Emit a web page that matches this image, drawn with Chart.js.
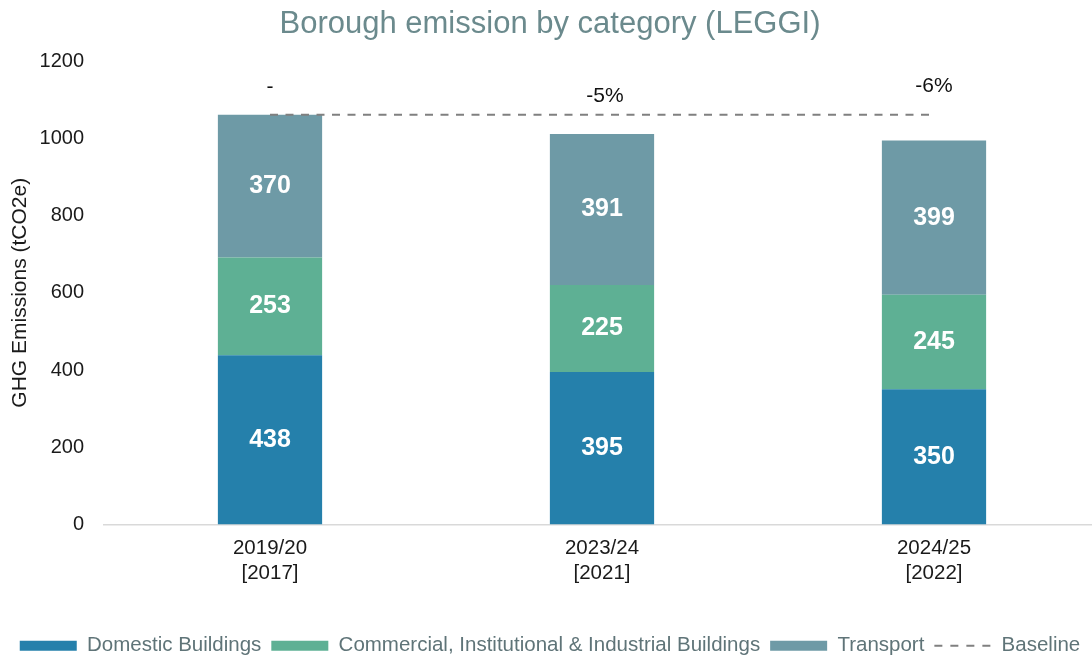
<!DOCTYPE html>
<html>
<head>
<meta charset="utf-8">
<script src="https://cdn.jsdelivr.net/npm/chart.js@4"></script>
<style>
  html, body { margin: 0; padding: 0; background: #ffffff; overflow: hidden; }
  #wrap { width: 1092px; height: 661px; overflow: hidden; }
</style>
</head>
<body>
<div id="wrap"><canvas id="c" width="1100" height="661"></canvas></div>
<script>
const categories = [['2019/20', '[2017]'], ['2023/24', '[2021]'], ['2024/25', '[2022]']];
const domestic = [438, 395, 350];
const commercial = [253, 225, 245];
const transport = [370, 391, 399];
const baseline = [1061, 1061, 1061];
const changeLabels = ['-', '-5%', '-6%'];
const yTicks = [0, 200, 400, 600, 800, 1000, 1200];

const FONT = "'Liberation Sans', Arial, sans-serif";
const changeOffsets = [27, 18, 28];

const barLabels = {
  id: 'barLabels',
  afterDatasetsDraw(chart) {
    const ctx = chart.ctx;
    ctx.save();
    ctx.font = 'bold 25px ' + FONT;
    ctx.fillStyle = '#ffffff';
    ctx.textAlign = 'center';
    ctx.textBaseline = 'middle';
    chart.data.datasets.forEach((ds, di) => {
      if (ds.type === 'line') return;
      const meta = chart.getDatasetMeta(di);
      meta.data.forEach((el, i) => {
        ctx.fillText(String(ds.data[i]), el.x, (el.y + el.base) / 2);
      });
    });
    const ys = chart.scales.y;
    const lineMeta = chart.getDatasetMeta(3);
    ctx.font = '21px ' + FONT;
    ctx.fillStyle = '#111111';
    lineMeta.data.forEach((pt, i) => {
      ctx.fillText(changeLabels[i], pt.x + (i === 1 ? 3 : 0), ys.getPixelForValue(baseline[i]) - changeOffsets[i]);
    });
    ctx.restore();
  }
};

new Chart(document.getElementById('c'), {
  type: 'bar',
  data: {
    labels: categories,
    datasets: [
      { label: 'Domestic Buildings', data: domestic, backgroundColor: '#2580AB', stack: 's', barPercentage: 0.314, categoryPercentage: 1 },
      { label: 'Commercial, Institutional & Industrial Buildings', data: commercial, backgroundColor: '#5EB094', stack: 's', barPercentage: 0.314, categoryPercentage: 1 },
      { label: 'Transport', data: transport, backgroundColor: '#6E9AA6', stack: 's', barPercentage: 0.314, categoryPercentage: 1 },
      { type: 'line', label: 'Baseline', data: baseline, borderColor: '#808080', borderWidth: 2, borderDash: [8, 7.5], pointRadius: 0, fill: false, stack: 'base', order: -1 }
    ]
  },
  options: {
    responsive: false,
    animation: false,
    devicePixelRatio: 1,
    layout: { padding: { left: 0, right: 0, top: 0, bottom: -5 } },
    plugins: {
      title: {
        display: true,
        text: 'Borough emission by category (LEGGI)',
        color: '#6B8A8D',
        font: { family: FONT, size: 31, weight: 'normal', lineHeight: 1.1 },
        padding: { top: 7, bottom: 19.9 }
      },
      legend: {
        position: 'bottom',
        labels: {
          font: { family: FONT, size: 20.5 },
          color: '#5F7478',
          usePointStyle: true,
          pointStyleWidth: 57,
          boxHeight: 10,
          padding: 10,
          generateLabels(chart) {
            return chart.data.datasets.map((ds, i) => {
              const isLine = ds.type === 'line';
              return {
                text: ds.label,
                fillStyle: isLine ? 'rgba(0,0,0,0)' : ds.backgroundColor,
                strokeStyle: isLine ? ds.borderColor : ds.backgroundColor,
                lineWidth: isLine ? 2 : 0,
                lineDash: isLine ? [8, 8] : [],
                pointStyle: isLine ? 'line' : 'rect',
                rotation: 0,
                fontColor: '#5F7478',
                hidden: false,
                datasetIndex: i
              };
            });
          }
        }
      },
      tooltip: { enabled: false }
    },
    scales: {
      x: {
        stacked: true,
        grid: { display: true, drawOnChartArea: false, drawTicks: false },
        border: { display: true, color: '#D9D9D9', width: 1.5 },
        ticks: { color: '#1a1a1a', font: { family: FONT, size: 20.5, lineHeight: 1.2 }, padding: 12, maxRotation: 0 },
        afterFit(scale) { scale.height = 101; }
      },
      y: {
        stacked: true,
        min: 0,
        max: 1200,
        afterBuildTicks(scale) { scale.ticks = yTicks.map(v => ({ value: v })); },
        grid: { display: false, drawTicks: false },
        border: { display: false },
        ticks: { color: '#1a1a1a', font: { family: FONT, size: 20 }, padding: 20, callback: v => String(v) },
        title: {
          display: true,
          text: 'GHG Emissions (tCO2e)',
          color: '#1a1a1a',
          font: { family: FONT, size: 21, lineHeight: 1.2 },
          padding: { top: 8, bottom: 0 }
        },
        afterFit(scale) { scale.width = 104; }
      }
    }
  },
  plugins: [barLabels]
});
</script>
</body>
</html>
